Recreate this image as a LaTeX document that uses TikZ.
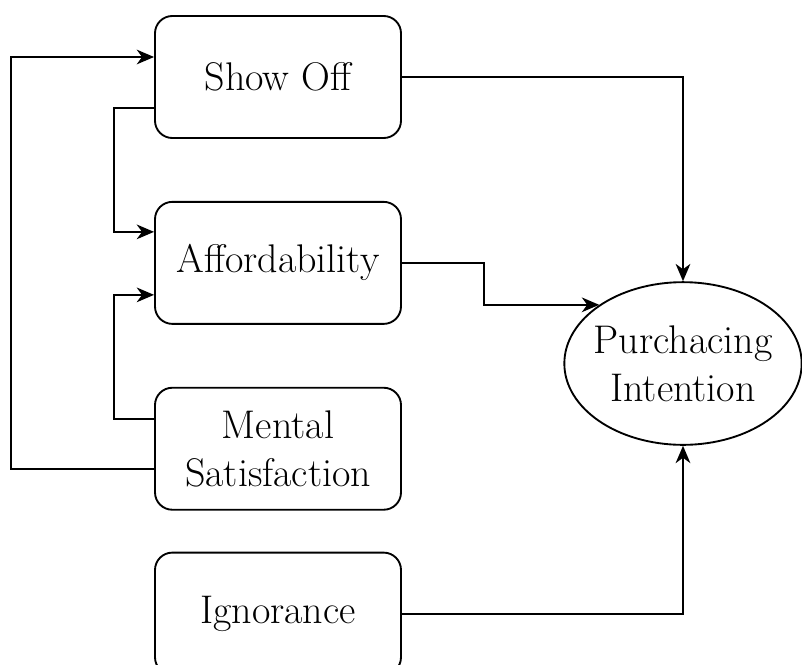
\documentclass[tikz,border=0pt]{standalone}
\usetikzlibrary{positioning,shapes.geometric,arrows.meta}

\begin{document}
\begin{tikzpicture}[x=0.75pt,y=-0.75pt,
        factor/.style={draw,rounded corners=13pt,line width=1.4pt,minimum width=184.5pt,minimum height=91.5pt,align=center,inner sep=0pt,font=\fontsize{30}{36}\selectfont},
        goal/.style={ellipse,draw,line width=1.4pt,minimum width=178pt,minimum height=122pt,align=center,inner xsep=-8pt,inner ysep=0pt,font=\fontsize{30}{36}\selectfont},
        arr/.style={line width=1.4pt,-{Stealth[length=13pt,width=11pt,inset=4pt]}}]
        \useasboundingbox (0,0) rectangle (802,664);
        \node[factor] (show) at (278,77) {Show Off};
        \node[factor] (afford) [below=46.5pt of show] {Affordability};
        \node[factor] (mental) [below=46.5pt of afford] {Mental\\Satisfaction};
        \node[factor] (ignor) [below=30.75pt of mental] {Ignorance};
        \node[goal] (purch) at (683,363.5) {Purchacing\\Intention};

        \draw[arr] (show.east) -| (purch.north);
        \draw[arr] ([yshift=-23.25pt]show.west) -- ++(-40,0) |- ([yshift=23.25pt]afford.west);
        \draw[arr] (afford.east) -- ++(82,0) |- (purch.145);
        \draw[arr] ([yshift=22pt]mental.west) -- ++(-40,0) |- ([yshift=-24pt]afford.west);
        \draw[arr] ([yshift=-15.5pt]mental.west) -- ++(-143,0) |- ([yshift=15pt]show.west);
        \draw[arr] (ignor.east) -| (purch.south);
    \end{tikzpicture}
\end{document}
